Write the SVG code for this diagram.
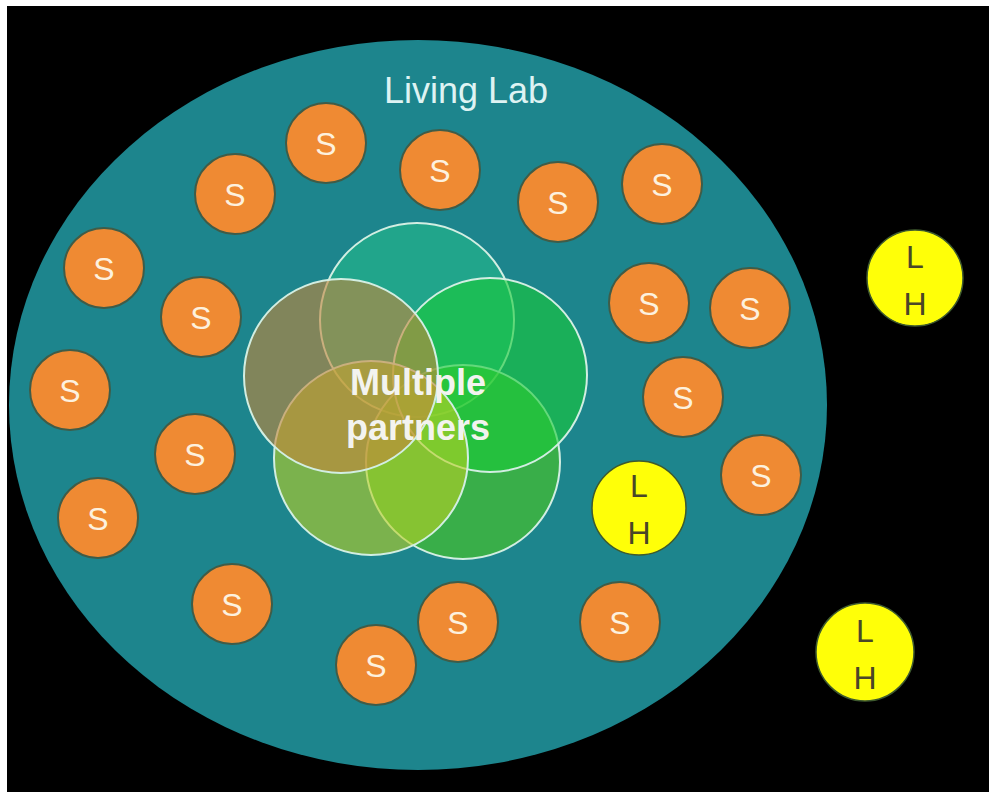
<svg xmlns="http://www.w3.org/2000/svg" width="989" height="792" viewBox="0 0 989 792">
<style>
.s circle{fill:#ef8a33;stroke:#3f5c48;stroke-width:2}
.s text{fill:#fdf1de;font-family:"Liberation Sans",Arial,sans-serif;font-size:32px;text-anchor:middle}
.lh circle{fill:#ffff08;stroke:#3e5a2e;stroke-width:1.5}
.lh text{fill:#4a4628;font-family:"Liberation Sans",Arial,sans-serif;font-size:32px;text-anchor:middle}
.v{fill-opacity:0.6;stroke:#d2eee2;stroke-width:2}
.mp{fill:#f3f3ef;font-family:"Liberation Sans",Arial,sans-serif;font-size:36px;font-weight:bold;text-anchor:middle}
</style>
<rect x="0" y="0" width="989" height="792" fill="#ffffff"/>
<rect x="7" y="6" width="982" height="786" fill="#000000"/>
<g id="living-lab">
<ellipse cx="418" cy="405" rx="409" ry="365" fill="#1d858d"/>
<text x="466" y="103" fill="#def3f3" font-family="Liberation Sans,Arial,sans-serif" font-size="36" text-anchor="middle">Living Lab</text>
</g>
<g id="partners">
<circle class="v" cx="417" cy="320" r="97" fill="#25ba8b"/>
<circle class="v" cx="463" cy="462" r="97" fill="#4dca1d"/>
<circle class="v" cx="490" cy="375" r="97" fill="#19cc37"/>
<circle class="v" cx="371" cy="458" r="97" fill="#bbd123"/>
<circle class="v" cx="341" cy="376" r="97" fill="#c4863a"/>
<text class="mp" x="418" y="395">Multiple</text>
<text class="mp" x="418" y="440">partners</text>
</g>
<g id="s1" class="s"><circle cx="326" cy="143" r="40"/><text x="326" y="155">S</text></g>
<g id="s2" class="s"><circle cx="235" cy="194" r="40"/><text x="235" y="206">S</text></g>
<g id="s3" class="s"><circle cx="440" cy="170" r="40"/><text x="440" y="182">S</text></g>
<g id="s4" class="s"><circle cx="558" cy="202" r="40"/><text x="558" y="214">S</text></g>
<g id="s5" class="s"><circle cx="662" cy="184" r="40"/><text x="662" y="196">S</text></g>
<g id="s6" class="s"><circle cx="104" cy="268" r="40"/><text x="104" y="280">S</text></g>
<g id="s7" class="s"><circle cx="201" cy="317" r="40"/><text x="201" y="329">S</text></g>
<g id="s8" class="s"><circle cx="649" cy="303" r="40"/><text x="649" y="315">S</text></g>
<g id="s9" class="s"><circle cx="750" cy="308" r="40"/><text x="750" y="320">S</text></g>
<g id="s10" class="s"><circle cx="70" cy="390" r="40"/><text x="70" y="402">S</text></g>
<g id="s11" class="s"><circle cx="683" cy="397" r="40"/><text x="683" y="409">S</text></g>
<g id="s12" class="s"><circle cx="195" cy="454" r="40"/><text x="195" y="466">S</text></g>
<g id="s13" class="s"><circle cx="761" cy="475" r="40"/><text x="761" y="487">S</text></g>
<g id="s14" class="s"><circle cx="98" cy="518" r="40"/><text x="98" y="530">S</text></g>
<g id="s15" class="s"><circle cx="232" cy="604" r="40"/><text x="232" y="616">S</text></g>
<g id="s16" class="s"><circle cx="458" cy="622" r="40"/><text x="458" y="634">S</text></g>
<g id="s17" class="s"><circle cx="376" cy="665" r="40"/><text x="376" y="677">S</text></g>
<g id="s18" class="s"><circle cx="620" cy="622" r="40"/><text x="620" y="634">S</text></g>
<g id="lh1" class="lh"><circle cx="639" cy="508" r="47"/><text x="639" y="497">L</text><text x="639" y="544">H</text></g>
<g id="lh2" class="lh"><circle cx="915" cy="278" r="48"/><text x="915" y="268">L</text><text x="915" y="315">H</text></g>
<g id="lh3" class="lh"><circle cx="865" cy="652" r="49"/><text x="865" y="642">L</text><text x="865" y="689">H</text></g>
<g id="connectors"></g>
</svg>
